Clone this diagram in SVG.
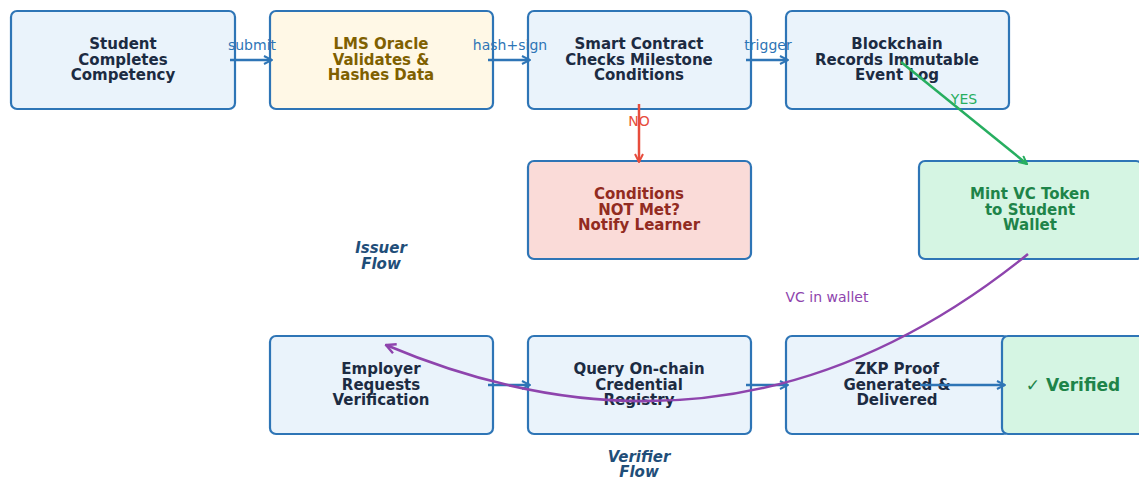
<svg xmlns="http://www.w3.org/2000/svg" width="1139" height="480" viewBox="0 0 1139 480">
<defs>
<style>
.box{stroke:#2e75b6;stroke-width:2.2;}
.blue{fill:#eaf3fb;}
.yellow{fill:#fff8e6;}
.red{fill:#fadbd8;}
.green{fill:#d5f5e3;}
.t{font-family:"DejaVu Sans",sans-serif;font-weight:bold;font-size:15px;text-anchor:middle;fill:#1c2b42;}
.ty{fill:#7f6000;}
.tr{fill:#922b21;}
.tg{fill:#1e8449;}
.lbl{font-family:"DejaVu Sans",sans-serif;font-size:14px;text-anchor:middle;}
.flow{font-family:"DejaVu Sans",sans-serif;font-weight:bold;font-style:italic;font-size:15px;text-anchor:middle;fill:#1f4e79;}
.c{fill:none;stroke-width:2.5;}
</style>
<marker id="ab" viewBox="0 0 10 10" refX="9" refY="5" markerWidth="10" markerHeight="10" markerUnits="userSpaceOnUse" orient="auto"><path d="M1,1 L9,5 L1,9" fill="none" stroke="#2e75b6" stroke-width="2"/></marker>
<marker id="ar" viewBox="0 0 10 10" refX="9" refY="5" markerWidth="10" markerHeight="10" markerUnits="userSpaceOnUse" orient="auto"><path d="M1,1 L9,5 L1,9" fill="none" stroke="#e74c3c" stroke-width="2"/></marker>
<marker id="ag" viewBox="0 0 10 10" refX="9" refY="5" markerWidth="10" markerHeight="10" markerUnits="userSpaceOnUse" orient="auto"><path d="M1,1 L9,5 L1,9" fill="none" stroke="#27ae60" stroke-width="2"/></marker>
<marker id="ap" viewBox="0 0 10 10" refX="9" refY="5" markerWidth="12" markerHeight="12" markerUnits="userSpaceOnUse" orient="auto"><path d="M1,1 L9,5 L1,9" fill="none" stroke="#8e44ad" stroke-width="2"/></marker>
</defs>
<rect width="1139" height="480" fill="#ffffff"/>

<g id="n-student"><rect class="box blue" x="11" y="11" width="224" height="98" rx="6"/>
<text class="t"><tspan x="123" y="49">Student</tspan><tspan x="123" y="64.5">Completes</tspan><tspan x="123" y="80">Competency</tspan></text></g>

<g id="n-lms"><rect class="box yellow" x="270" y="11" width="223" height="98" rx="6"/>
<text class="t ty"><tspan x="381" y="49">LMS Oracle</tspan><tspan x="381" y="64.5">Validates &amp;</tspan><tspan x="381" y="80">Hashes Data</tspan></text></g>

<g id="n-contract"><rect class="box blue" x="528" y="11" width="223" height="98" rx="6"/>
<text class="t"><tspan x="639" y="49">Smart Contract</tspan><tspan x="639" y="64.5">Checks Milestone</tspan><tspan x="639" y="80">Conditions</tspan></text></g>

<g id="n-chain"><rect class="box blue" x="786" y="11" width="223" height="98" rx="6"/>
<text class="t"><tspan x="897" y="49">Blockchain</tspan><tspan x="897" y="64.5">Records Immutable</tspan><tspan x="897" y="80">Event Log</tspan></text></g>

<g id="n-notmet"><rect class="box red" x="528" y="161" width="223" height="98" rx="6"/>
<text class="t tr"><tspan x="639" y="199">Conditions</tspan><tspan x="639" y="214.5">NOT Met?</tspan><tspan x="639" y="230">Notify Learner</tspan></text></g>

<g id="n-mint"><rect class="box green" x="919" y="161" width="223" height="98" rx="6"/>
<text class="t tg"><tspan x="1030" y="199">Mint VC Token</tspan><tspan x="1030" y="214.5">to Student</tspan><tspan x="1030" y="230">Wallet</tspan></text></g>

<g id="n-employer"><rect class="box blue" x="270" y="336" width="223" height="98" rx="6"/>
<text class="t"><tspan x="381" y="374">Employer</tspan><tspan x="381" y="389.5">Requests</tspan><tspan x="381" y="405">Verification</tspan></text></g>

<g id="n-query"><rect class="box blue" x="528" y="336" width="223" height="98" rx="6"/>
<text class="t"><tspan x="639" y="374">Query On-chain</tspan><tspan x="639" y="389.5">Credential</tspan><tspan x="639" y="405">Registry</tspan></text></g>

<g id="n-zkp"><rect class="box blue" x="786" y="336" width="223" height="98" rx="6"/>
<text class="t"><tspan x="897" y="374">ZKP Proof</tspan><tspan x="897" y="389.5">Generated &amp;</tspan><tspan x="897" y="405">Delivered</tspan></text></g>

<g id="n-verified"><rect class="box green" x="1002" y="336" width="145" height="98" rx="6"/>
<text class="t tg" x="1073" y="391" style="font-size:17px">✓ Verified</text></g>

<g id="labels">
<text class="flow"><tspan x="381" y="253">Issuer</tspan><tspan x="381" y="268.5">Flow</tspan></text>
<text class="flow"><tspan x="639" y="462">Verifier</tspan><tspan x="639" y="477">Flow</tspan></text>
</g>

<g id="connectors">
<line class="c" x1="230" y1="60" x2="272" y2="60" stroke="#2e75b6" marker-end="url(#ab)"/>
<line class="c" x1="488" y1="60" x2="530" y2="60" stroke="#2e75b6" marker-end="url(#ab)"/>
<line class="c" x1="746" y1="60" x2="788" y2="60" stroke="#2e75b6" marker-end="url(#ab)"/>
<line class="c" x1="639" y1="104" x2="639" y2="162" stroke="#e74c3c" marker-end="url(#ar)"/>
<line class="c" x1="901" y1="62" x2="1027" y2="164" stroke="#27ae60" marker-end="url(#ag)"/>
<line class="c" x1="488" y1="385" x2="530" y2="385" stroke="#2e75b6" marker-end="url(#ab)"/>
<line class="c" x1="746" y1="385" x2="788" y2="385" stroke="#2e75b6" marker-end="url(#ab)"/>
<line class="c" x1="920" y1="385" x2="1005" y2="385" stroke="#2e75b6" marker-end="url(#ab)"/>
<path class="c" d="M1028,254 Q734,492 386,345" stroke="#8e44ad" marker-end="url(#ap)"/>
<text class="lbl" x="252" y="50" fill="#2e75b6">submit</text>
<text class="lbl" x="510" y="50" fill="#2e75b6">hash+sign</text>
<text class="lbl" x="768" y="50" fill="#2e75b6">trigger</text>
<text class="lbl" x="639" y="126" fill="#e74c3c">NO</text>
<text class="lbl" x="964" y="104" fill="#27ae60">YES</text>
<text class="lbl" x="827" y="302" fill="#8e44ad">VC in wallet</text>
</g>
</svg>
